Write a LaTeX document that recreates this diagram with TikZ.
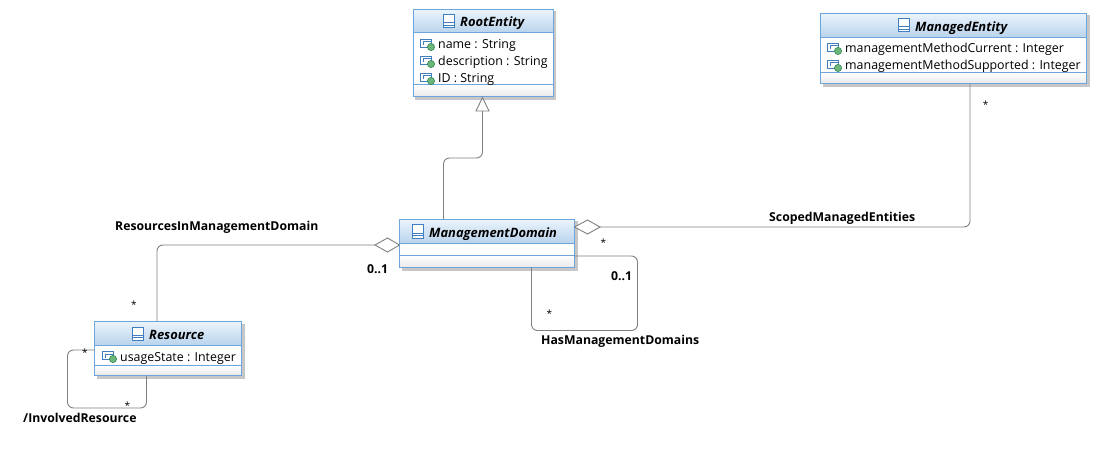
\documentclass[tikz,border=0pt]{standalone}
\usepackage{fontspec}
\setmainfont{Open Sans}
\usetikzlibrary{calc,shadings}
\definecolor{umlborder}{HTML}{6EA5DC}
\definecolor{umlhtop}{HTML}{E9F3FC}
\definecolor{umlhbot}{HTML}{B9D3EC}
\definecolor{umlftop}{HTML}{FFFFFF}
\definecolor{umlfbot}{HTML}{E9E9E9}
\definecolor{umlline}{HTML}{808080}
\definecolor{umlicon}{HTML}{3F7FBF}
\definecolor{umlgreen}{HTML}{6DB57B}
\definecolor{umlgreend}{HTML}{2E8B57}
\tikzset{
  classshell/.style={draw=umlborder,line width=1pt,fill=white,inner sep=0pt,outer sep=0pt,anchor=north west},
  conn/.style={draw=umlline,line width=0.9pt,rounded corners=6pt},
  dia/.style={draw=umlline,line width=0.9pt,fill=white},
  tri/.style={draw=umlline,line width=0.9pt,fill=white},
  title/.style={font=\fontsize{12.9}{14}\selectfont\bfseries\itshape,text=black,inner sep=0pt,anchor=base west},
  attr/.style={font=\fontsize{12.4}{14}\selectfont,text=black,inner sep=0pt,anchor=base west},
  lab/.style={font=\fontsize{12.25}{14}\selectfont\bfseries,text=black,inner sep=0pt,anchor=base west},
  mult/.style={font=\fontsize{10}{12}\selectfont,text=black,inner sep=0pt,anchor=base}
}
% name, x1,y1,x2,y2, y header end, y attr end
\newcommand{\umlclass}[7]{%
  \fill[black!22] (#2+2,#3+2) rectangle (#4+3,#5+3);
  \node[classshell,minimum width=#4pt-#2pt,minimum height=#5pt-#3pt] (#1) at (#2,#3) {};
  \shade[top color=umlhtop,bottom color=umlhbot] (#2+.5,#3+.5) rectangle (#4-.5,#6);
  \shade[top color=umlftop,bottom color=umlfbot] (#2+.5,#7) rectangle (#4-.5,#5-.5);
  \draw[umlborder,line width=1pt] (#2,#6) -- (#4,#6) (#2,#7) -- (#4,#7);
  \draw[umlborder,line width=1pt] (#2,#3) rectangle (#4,#5);
}
% class icon x (left), y centre
\newcommand{\clsicon}[2]{%
  \draw[umlicon,fill=white,line width=1pt] (#1+.5,#2-6.5) rectangle (#1+11.5,#2+6.5);
  \draw[umlicon,line width=1pt] (#1+.5,#2+1.5) -- (#1+11.5,#2+1.5) (#1+.5,#2+4) -- (#1+11.5,#2+4);
}
% attribute icon x (left), y centre
\newcommand{\attricon}[2]{%
  \draw[umlicon,fill=white,line width=1pt] (#1+.5,#2-4.5) rectangle (#1+11.5,#2+3.5);
  \draw[umlicon,line width=1pt] (#1+3,#2-2) -- (#1+11.5,#2-2) (#1+3,#2-2) -- (#1+3,#2+1.5);
  \fill[umlgreen,draw=umlgreend,line width=.6pt] (#1+11,#2+3) circle (3.6);
}
\begin{document}
\begin{tikzpicture}[x=1pt,y=-1pt]
\useasboundingbox[fill=white] (0,0) rectangle (1100,449);
% classes
\umlclass{root}{413}{9.5}{553}{97}{33}{85}
\umlclass{managed}{820.5}{13.5}{1086.5}{84}{37.5}{72.5}
\umlclass{domain}{399.5}{219.5}{574.5}{267.5}{243.5}{255.5}
\umlclass{resource}{94.5}{321.5}{241.5}{375.5}{345.5}{365.5}
% icons
\clsicon{443}{21.5}
\clsicon{898}{25.5}
\clsicon{412}{231.5}
\clsicon{132}{333.5}
\attricon{420}{44}
\attricon{420}{61}
\attricon{420}{78}
\attricon{827}{48}
\attricon{827}{65}
\attricon{102}{356}
% class text
\node[title] (tRoot) at (460,27) {RootEntity};
\node[attr] (a1) at (438,49) {name : String};
\node[attr] (a2) at (438,66) {description : String};
\node[attr] (a3) at (438,83) {ID : String};
\node[title] (tManaged) at (915,32) {ManagedEntity};
\node[attr] (a4) at (845,53) {managementMethodCurrent : Integer};
\node[attr] (a5) at (845,70) {managementMethodSupported : Integer};
\node[title] (tDomain) at (429,237) {ManagementDomain};
\node[title] (tResource) at (149,339) {Resource};
\node[attr] (a6) at (120,361) {usageState : Integer};
% anchors on the class boxes
\coordinate (resUp) at (157,321.5);
\coordinate (domL) at (399.5,245);
\coordinate (domR) at (574.5,227);
\coordinate (manD) at (970,84);
\coordinate (domLoopA) at (574.5,256);
\coordinate (domLoopB) at (531.5,267.5);
\coordinate (resLoopA) at (94.5,350);
\coordinate (resLoopB) at (146.5,375.5);
\coordinate (genOut) at (443.5,219.5);
\coordinate (genTip) at (482.5,97.5);
% generalization
\draw[conn] (genOut) -- (443.5,158) -- (482.5,158) -- (482.5,111);
\draw[tri] (genTip) -- (489,111) -- (476,111) -- cycle;
% aggregations
\draw[conn] (resUp) -- (157,245) -- (375,245);
\draw[dia] (domL) -- (387.5,238) -- (375,245) -- (387.5,252) -- cycle;
\draw[conn] (manD) -- (970,227) -- (600,227);
\draw[dia] (domR) -- (587.5,220) -- (600,227) -- (587.5,234) -- cycle;
% self loops
\draw[conn] (domLoopA) -- (637.5,256) -- (637.5,330.5) -- (531.5,330.5) -- (domLoopB);
\draw[conn] (resLoopA) -- (67.5,350) -- (67.5,408) -- (146.5,408) -- (resLoopB);
% labels
\node[lab] (l1) at (115,230) {ResourcesInManagementDomain};
\node[lab] (l2) at (769,222) {ScopedManagedEntities};
\node[lab] (l3) at (541,344) {HasManagementDomains};
\node[lab] (l4) at (23,422) {/InvolvedResource};
\node[lab] (m1) at (367,273) {0..1};
\node[lab] (m2) at (611,280) {0..1};
\node[mult] (s1) at (134,308) {*};
\node[mult] (s2) at (603.5,246.5) {*};
\node[mult] (s3) at (985.5,109) {*};
\node[mult] (s4) at (549.5,317.5) {*};
\node[mult] (s5) at (85,356) {*};
\node[mult] (s6) at (127.5,409) {*};
\end{tikzpicture}
\end{document}
